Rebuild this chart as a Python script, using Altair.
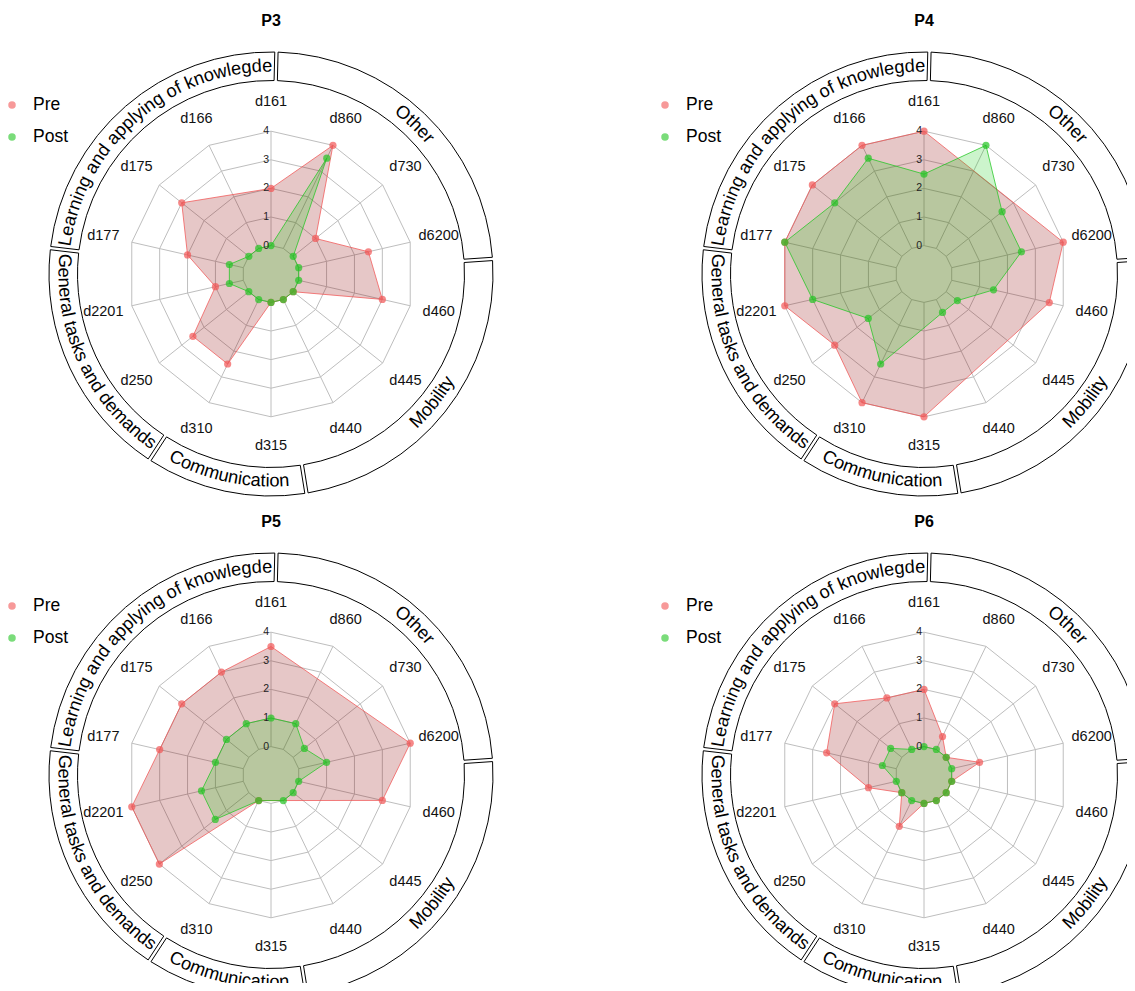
import math
import pandas as pd
import altair as alt

# ------------------------------------------------------------------ data
categories = ["d161", "d860", "d730", "d6200", "d460", "d445", "d440",
              "d315", "d310", "d250", "d2201", "d177", "d175", "d166"]
panels = ["P3", "P4", "P5", "P6"]
series_names = ["Pre", "Post"]
NA = None

pre_P3 = [2, 4, 1, 2.5, 3, 0, 0, 0, 2.5, 2.5, 1, 2, 3, NA]
post_P3 = [0, 3.5, 0, 0, 0, 0, 0, 0, 0, 0, 0.5, 0.5, 0, 0]
pre_P4 = [4, NA, NA, 4, 3.5, NA, NA, 4, 4, 3, 4, 4, 4, 4]
post_P4 = [2.5, 4, 2.5, 2.5, 1.5, 0.5, 0.5, NA, 2.5, 1.5, 3, 4, 3, 3.5]
pre_P5 = [3.5, NA, NA, 4, 3, NA, NA, NA, 0, 4, 4, 3, 3, 3]
post_P5 = [1, 1, 0.5, 1, 0, 0, 0, NA, 0, 1.5, 1.5, 1, 1, 1]
pre_P6 = [2, 0.5, 0, 1, 0, 0, 0, 0, 1, 0, 1, 2.5, 3, 2]
post_P6 = [0, 0, 0, 0, 0, 0, 0, 0, 0, 0, 0, 0.5, 0.5, 0]

levels = [0, 1, 2, 3, 4]
group_names = ["Other", "Mobility", "Communication",
               "General tasks and demands", "Learning and applying of knowlegde"]
group_units = [4, 4, 2, 3, 4]

# ------------------------------------------------------------------ style / geometry
R0, U = 28.4, 28.6          # radius of value 0 and of one unit
R_LAB = 172                 # category label radius
RING_IN, RING_OUT = 193.5, 222
R_TXT = 207.5
FS_RING = 18.2
RING_START = 1.4            # degrees, start of first group
UNIT_DEG = 360.0 / sum(group_units)
FONT = "Liberation Sans"
GRID = "#BEBEBE"
RED_LINE, GREEN_LINE = "#F25555", "#22C522"
RED_FILL, GREEN_FILL = "#8B0000", "#00C800"

N = len(categories)

rows = []
for p, pre, post in zip(panels, [pre_P3, pre_P4, pre_P5, pre_P6],
                        [post_P3, post_P4, post_P5, post_P6]):
    for s, vals in (("Pre", pre), ("Post", post)):
        for i, (c, v) in enumerate(zip(categories, vals)):
            rows.append({"panel": p, "series": s, "idx": i, "cat": c, "value": v})
vals_df = pd.DataFrame(rows)

grid_df = pd.DataFrame([{"level": l, "idx": i} for l in levels for i in range(N)])
cat_df = pd.DataFrame({"idx": list(range(N)), "cat": categories})
lev_df = pd.DataFrame({"level": levels, "lab": [str(l) for l in levels]})

# ring segments
ring_rows = []
cum = 0
for name, n in zip(group_names, group_units):
    a0 = RING_START + cum * UNIT_DEG
    a1 = a0 + n * UNIT_DEG
    ring_rows.append({"g": name, "t0": math.radians(a0), "t1": math.radians(a1),
                      "mid": (a0 + a1) / 2, "cx": 0, "cy": 0})
    cum += n
ring_df = pd.DataFrame(ring_rows)

# curved text along the ring, one character per row (Arial/Liberation widths)
W_EM = {' ': 0.278, 'a': 0.556, 'b': 0.556, 'c': 0.5, 'd': 0.556, 'e': 0.556,
        'f': 0.278, 'g': 0.556, 'h': 0.556, 'i': 0.222, 'j': 0.222, 'k': 0.5,
        'l': 0.222, 'm': 0.833, 'n': 0.556, 'o': 0.556, 'p': 0.556, 'q': 0.556,
        'r': 0.333, 's': 0.5, 't': 0.278, 'u': 0.556, 'v': 0.5, 'w': 0.722,
        'x': 0.5, 'y': 0.5, 'z': 0.5, 'C': 0.722, 'G': 0.778, 'L': 0.556,
        'M': 0.833, 'O': 0.778}
char_rows = []
for r in ring_rows:
    name, mid = r["g"], r["mid"]
    upper = math.cos(math.radians(mid)) > 0
    total = sum(W_EM.get(c, 0.556) for c in name) * FS_RING
    rb = R_TXT - 0.3 * FS_RING if upper else R_TXT + 0.3 * FS_RING
    s = -total / 2
    for c in name:
        w = W_EM.get(c, 0.556) * FS_RING
        sc = s + w / 2
        s += w
        if c == " ":
            continue
        th = mid + (1 if upper else -1) * math.degrees(sc / rb)
        rot = (th if upper else th - 180) % 360
        char_rows.append({"ch": c,
                          "x": R_TXT * math.sin(math.radians(th)),
                          "y": R_TXT * math.cos(math.radians(th)),
                          "rot": rot})
char_df = pd.DataFrame(char_rows)

legend_df = pd.DataFrame({"series": series_names, "ly": [169, 137], "lx": [-259, -259],
                          "tx": [-238, -238]})


def panel(p, W, H, cx, cy):
    xs = alt.Scale(domain=[-cx, W - cx], nice=False, zero=False)
    ys = alt.Scale(domain=[cy - H, cy], nice=False, zero=False)

    def X(f):
        return alt.X(f, scale=xs, axis=None)

    def Y(f):
        return alt.Y(f, scale=ys, axis=None)

    ang = f"datum.idx * 2 * PI / {N}"

    grid = alt.Chart(grid_df).transform_calculate(
        r=f"{R0} + {U} * datum.level", a=ang
    ).transform_calculate(
        x="datum.r * sin(datum.a)", y="datum.r * cos(datum.a)"
    ).mark_line(interpolate="linear-closed", color=GRID, strokeWidth=1, clip=True).encode(
        x=X("x:Q"), y=Y("y:Q"), detail="level:N", order="idx:Q")

    spokes = alt.Chart(cat_df).transform_calculate(a=ang).transform_calculate(
        x=f"{R0} * sin(datum.a)", y=f"{R0} * cos(datum.a)",
        x2=f"{R0 + 4 * U} * sin(datum.a)", y2=f"{R0 + 4 * U} * cos(datum.a)"
    ).mark_rule(color=GRID, strokeWidth=1, clip=True).encode(
        x=X("x:Q"), y=Y("y:Q"), x2="x2:Q", y2="y2:Q")

    def poly(s, lc, fc, fo):
        return alt.Chart(vals_df).transform_filter(
            f"datum.panel == '{p}' && datum.series == '{s}' && isValid(datum.value)"
        ).transform_calculate(r=f"{R0} + {U} * datum.value", a=ang).transform_calculate(
            x="datum.r * sin(datum.a)", y="datum.r * cos(datum.a)"
        ).mark_line(interpolate="linear-closed", color=lc, strokeWidth=1,
                    strokeOpacity=0.75, fill=fc, fillOpacity=fo, clip=True).encode(
            x=X("x:Q"), y=Y("y:Q"), order="idx:Q")

    pts = alt.Chart(vals_df).transform_filter(
        f"datum.panel == '{p}' && isValid(datum.value)"
    ).transform_calculate(r=f"{R0} + {U} * datum.value", a=ang).transform_calculate(
        x="datum.r * sin(datum.a)", y="datum.r * cos(datum.a)",
        so="datum.series == 'Pre' ? 0 : 1"
    ).mark_circle(size=52, opacity=0.7, clip=True).encode(
        x=X("x:Q"), y=Y("y:Q"),
        color=alt.Color("series:N", scale=alt.Scale(domain=series_names,
                                                    range=[RED_LINE, GREEN_LINE]),
                        legend=None),
        order="so:Q")

    labels = alt.Chart(cat_df).transform_calculate(a=ang).transform_calculate(
        x=f"{R_LAB} * sin(datum.a)", y=f"{R_LAB} * cos(datum.a)"
    ).mark_text(font=FONT, fontSize=14.5, color="#111111", align="center",
                baseline="middle", clip=True).encode(
        x=X("x:Q"), y=Y("y:Q"), text="cat:N")

    ticks = alt.Chart(lev_df).transform_calculate(
        x="-2", y=f"{R0} + {U} * datum.level"
    ).mark_text(font=FONT, fontSize=10.5, color="#222222", align="right",
                baseline="middle", clip=True).encode(
        x=X("x:Q"), y=Y("y:Q"), text="lab:N")

    ring = alt.Chart(ring_df).mark_arc(
        innerRadius=RING_IN, outerRadius=RING_OUT, padAngle=0.0112,
        stroke="black", strokeWidth=1, fill="white", clip=True
    ).encode(theta=alt.Theta("t0:Q", scale=None), theta2=alt.Theta2("t1:Q"),
             x=X("cx:Q"), y=Y("cy:Q"))

    ring_txt = alt.Chart(char_df).mark_text(
        font=FONT, fontSize=FS_RING, color="black", align="center",
        baseline="middle", clip=True
    ).encode(x=X("x:Q"), y=Y("y:Q"), text="ch:N",
             angle=alt.Angle("rot:Q", scale=None))

    leg_pts = alt.Chart(legend_df).mark_circle(size=56, opacity=0.6, clip=True).encode(
        x=X("lx:Q"), y=Y("ly:Q"),
        color=alt.Color("series:N", scale=alt.Scale(domain=series_names,
                                                    range=[RED_LINE, GREEN_LINE]),
                        legend=None))
    leg_txt = alt.Chart(legend_df).mark_text(
        font=FONT, fontSize=17.5, color="black", align="left", baseline="middle",
        clip=True).encode(x=X("tx:Q"), y=Y("ly:Q"), text="series:N")

    title = alt.Chart(pd.DataFrame({"t": [p], "x": [0], "y": [253]})).mark_text(
        font=FONT, fontSize=16, fontWeight="bold", color="black", align="center",
        baseline="middle", clip=True).encode(x=X("x:Q"), y=Y("y:Q"), text="t:N")

    return alt.layer(
        ring, ring_txt, grid, spokes,
        poly("Pre", RED_LINE, RED_FILL, 0.22),
        poly("Post", GREEN_LINE, GREEN_FILL, 0.2),
        pts, labels, ticks, leg_pts, leg_txt, title
    ).properties(width=W, height=H)


WL, WR = 600, 519
HT, HB = 497, 478
chart = alt.concat(
    panel("P3", WL, HT, 263, 266), panel("P4", WR, HT, 316, 266),
    panel("P5", WL, HB, 263, 270), panel("P6", WR, HB, 316, 270),
    columns=2, spacing=0, bounds="flush"
).properties(padding=0).configure(font=FONT).configure_view(
    strokeWidth=0, stroke="transparent")

chart.save("out.html", embed_options={"renderer": "svg", "actions": False})
